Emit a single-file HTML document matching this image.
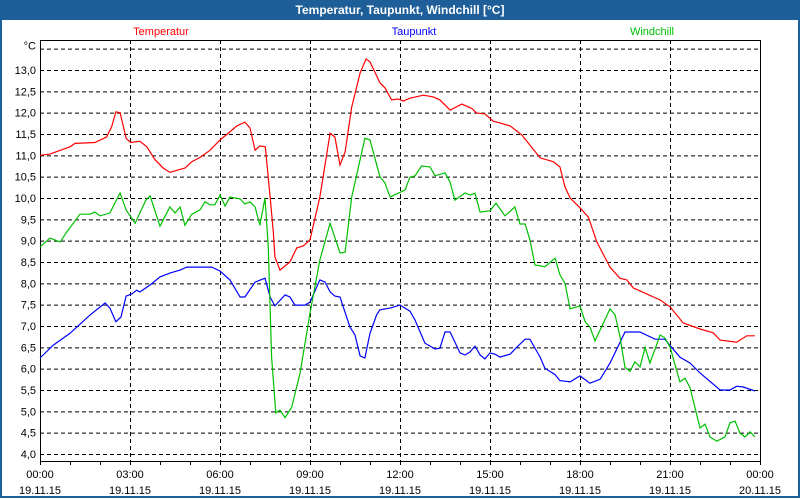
<!DOCTYPE html>
<html><head><meta charset="utf-8"><style>
body{margin:0;width:800px;height:500px;overflow:hidden;background:#fff;font-family:"Liberation Sans",sans-serif}
#frame{position:absolute;left:0;top:0;width:796px;height:496px;border:2px solid #1f5f99;border-top:none}
#title{position:absolute;left:0;top:0;width:800px;height:20px;background:#1f5f99;color:#fff;font-weight:bold;font-size:12px;text-align:center;line-height:20px}
</style></head><body>
<div id="frame"></div>
<div id="title">Temperatur, Taupunkt, Windchill [°C]</div>
<svg id="chart" width="800" height="500" style="position:absolute;left:0;top:0"></svg>
<script>
const yTicks=[4.0,4.5,5.0,5.5,6.0,6.5,7.0,7.5,8.0,8.5,9.0,9.5,10.0,10.5,11.0,11.5,12.0,12.5,13.0];
const xTickHours=[0,3,6,9,12,15,18,21,24];
const xTickTimes=["00:00","03:00","06:00","09:00","12:00","15:00","18:00","21:00","00:00"];
const xTickDates=["19.11.15","19.11.15","19.11.15","19.11.15","19.11.15","19.11.15","19.11.15","19.11.15","20.11.15"];
const tempHours=[0,0.33,1,1.17,1.83,2.22,2.39,2.53,2.67,2.87,3.02,3.33,3.56,3.83,4.11,4.33,4.56,4.83,5.06,5.33,5.67,6,6.28,6.56,6.83,7,7.17,7.33,7.51,7.67,7.78,7.83,8.0,8.33,8.56,8.78,9.0,9.33,9.67,9.83,10,10.17,10.39,10.67,10.87,11,11.33,11.5,11.72,11.94,12.11,12.33,12.78,13.11,13.33,13.67,14.06,14.39,14.56,14.83,15.11,15.33,15.67,16.06,16.67,17.11,17.33,17.5,17.67,18,18.28,18.56,19,19.33,19.56,19.78,20.67,21,21.44,22,22.44,22.67,23.22,23.56,23.83];
const tempValues=[11.0,11.03,11.2,11.28,11.3,11.43,11.67,12.02,12.0,11.4,11.3,11.33,11.2,10.9,10.7,10.6,10.65,10.7,10.85,10.95,11.12,11.36,11.52,11.69,11.78,11.64,11.12,11.22,11.2,10.03,9.18,8.62,8.31,8.5,8.83,8.88,9.02,10.03,11.52,11.43,10.77,11.08,12.13,12.93,13.26,13.19,12.7,12.58,12.3,12.32,12.27,12.34,12.41,12.37,12.3,12.06,12.2,12.1,11.99,11.97,11.8,11.76,11.69,11.48,10.94,10.85,10.73,10.26,10.0,9.77,9.55,8.97,8.38,8.12,8.08,7.89,7.61,7.45,7.07,6.93,6.84,6.67,6.62,6.77,6.77];
const dewHours=[0,0.44,1,1.67,2.17,2.33,2.53,2.7,2.87,3.06,3.22,3.33,3.67,4,4.33,4.67,4.89,5.72,6,6.33,6.67,6.83,7.17,7.5,7.67,7.83,8.17,8.33,8.5,8.83,9.0,9.33,9.5,9.67,9.83,10,10.33,10.5,10.67,10.83,11,11.22,11.33,11.67,12,12.33,12.5,12.83,13.17,13.33,13.5,13.67,14,14.17,14.33,14.5,14.67,14.83,15,15.17,15.33,15.67,15.89,16.17,16.33,16.67,16.83,17.17,17.33,17.67,18,18.33,18.67,19,19.5,20,20.5,20.83,21.33,21.67,22,22.67,23,23.22,23.44,23.83];
const dewValues=[6.25,6.55,6.83,7.26,7.54,7.42,7.1,7.21,7.7,7.75,7.84,7.8,7.96,8.15,8.24,8.31,8.38,8.38,8.29,8.08,7.68,7.68,8.03,8.12,7.68,7.47,7.73,7.68,7.49,7.49,7.56,8.08,8.03,7.8,7.7,7.68,6.98,6.79,6.3,6.25,6.83,7.26,7.38,7.42,7.49,7.35,7.14,6.6,6.46,6.48,6.86,6.86,6.37,6.32,6.39,6.53,6.32,6.23,6.37,6.34,6.27,6.34,6.5,6.69,6.69,6.27,6.01,5.86,5.72,5.69,5.83,5.66,5.75,6.13,6.86,6.86,6.69,6.69,6.27,6.13,5.9,5.5,5.5,5.59,5.57,5.48];
const chillHours=[0,0.33,0.67,0.89,1.33,1.67,1.83,2,2.33,2.67,2.87,3.17,3.53,3.67,4,4.33,4.5,4.67,4.83,5.06,5.33,5.5,5.67,5.83,6,6.17,6.33,6.67,6.83,7,7.17,7.33,7.5,7.61,7.72,7.86,8.0,8.17,8.39,8.67,9.0,9.33,9.67,10.0,10.17,10.39,10.83,11,11.33,11.5,11.67,12.17,12.33,12.5,12.72,13,13.17,13.5,13.67,13.83,14.17,14.33,14.5,14.67,15.0,15.2,15.5,15.83,16,16.17,16.33,16.5,16.83,17.17,17.33,17.5,17.67,18,18.17,18.33,18.5,19,19.17,19.33,19.5,19.67,19.83,20,20.17,20.33,20.67,20.83,21,21.33,21.5,21.67,22,22.17,22.33,22.56,22.83,23,23.17,23.33,23.5,23.67,23.83];
const chillValues=[8.85,9.06,8.97,9.2,9.62,9.62,9.67,9.58,9.65,10.12,9.72,9.41,9.95,10.05,9.34,9.79,9.65,9.79,9.36,9.62,9.72,9.91,9.84,9.84,10.07,9.81,10.02,9.98,9.86,9.91,9.79,9.36,10.0,8.85,6.27,4.96,5.03,4.85,5.1,5.9,7.3,8.55,9.41,8.71,8.73,10.02,11.4,11.36,10.5,10.35,10.02,10.19,10.49,10.52,10.75,10.73,10.52,10.59,10.37,9.95,10.12,10.07,10.11,9.67,9.7,9.88,9.58,9.79,9.39,9.39,9.02,8.43,8.39,8.59,8.2,8.0,7.4,7.47,7.1,6.98,6.65,7.4,7.26,6.76,6.03,5.94,6.16,6.04,6.5,6.13,6.79,6.72,6.51,5.69,5.78,5.55,4.61,4.7,4.4,4.3,4.4,4.73,4.77,4.49,4.4,4.52,4.4];

const NS='http://www.w3.org/2000/svg';
const svg=document.getElementById('chart');
const X0=40,X1=760,YTOP=40,YBOT=461;
function xs(h){return X0+h*(X1-X0)/24;}
function ys(v){return 454-(v-4)*42.667;}
function mk(tag,attrs){const e=document.createElementNS(NS,tag);for(const k in attrs)e.setAttribute(k,attrs[k]);svg.appendChild(e);return e;}
function txt(x,y,s,anchor,fill){const t=mk('text',{x:x,y:y,'text-anchor':anchor,fill:fill||'#000','font-size':'11','font-family':'Liberation Sans, sans-serif'});t.textContent=s;return t;}

// horizontal grid incl. top (13.5) line
const gridVals=yTicks.concat([13.5]);
gridVals.forEach(v=>{
  const l=mk('line',{x1:X0,x2:X1,y1:ys(v)+0.5,y2:ys(v)+0.5,stroke:'#000','stroke-dasharray':'4,3','stroke-width':1});
  
  
});
yTicks.forEach(v=>{
  const t=txt(36,ys(v)+4,v.toFixed(1).replace('.',','),'end');
  
  
});
const unit=txt(36,ys(13.5)+1,'°C','end');



xTickHours.forEach((h,i)=>{
  if(h>0&&h<24){
    const l=mk('line',{x1:xs(h)+0.5,x2:xs(h)+0.5,y1:YTOP,y2:YBOT,stroke:'#000','stroke-dasharray':'4,3'});
    
    
  }
  const t1=txt(xs(h),478,xTickTimes[i],'middle');
  
  
  const t2=txt(xs(h),494,xTickDates[i],'middle');
  
  
});
for(let h=0;h<=24;h++){
  const l=mk('line',{x1:xs(h)+0.5,x2:xs(h)+0.5,y1:YBOT,y2:YBOT+4,stroke:'#000'});
  
  
}
const box=mk('rect',{x:X0+0.5,y:YTOP+0.5,width:X1-X0,height:YBOT-YTOP,fill:'none',stroke:'#000'});



function series(hours,vals,color,name){
  const p=mk('polyline',{points:hours.map((h,i)=>xs(h).toFixed(1)+','+ys(vals[i]).toFixed(1)).join(' '),fill:'none',stroke:color,'stroke-width':1.2});
  
  
}
series(tempHours,tempValues,'#ff0000','temperatur-line');
series(dewHours,dewValues,'#0000ff','taupunkt-line');
series(chillHours,chillValues,'#00c000','windchill-line');

const l1=txt(161,35,'Temperatur','middle','#ff0000');


const l2=txt(414,35,'Taupunkt','middle','#0000ff');


const l3=txt(652,35,'Windchill','middle','#00c000');


</script>
</body></html>
